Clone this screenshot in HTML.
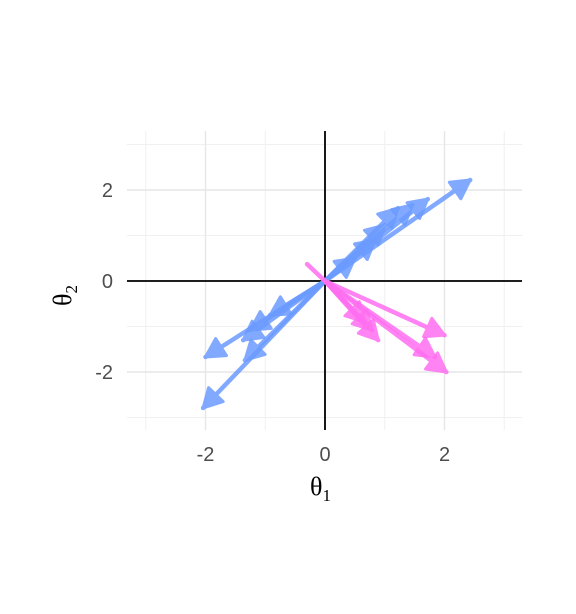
<!DOCTYPE html>
<html><head><meta charset="utf-8"><style>
html,body{margin:0;background:#fff;width:576px;height:614px;overflow:hidden}
svg{display:block;font-family:"Liberation Sans",sans-serif}
</style></head><body>
<svg id="c" width="576" height="614"></svg>
<script>
const blueX0=[0,0,0,0,0,0,0,0,0,0,0,0,0];
const blueY0=[0,0,0,0,0,0,0,0,0,0,0,0,0];
const blueX1=[2.43,1.72,1.46,1.22,1.0,0.84,0.5,-2.0,-2.04,-1.34,-1.37,-1.25,-0.92];
const blueY1=[2.22,1.80,1.67,1.6,1.23,0.9,0.5,-1.67,-2.79,-1.74,-1.3,-1.08,-0.75];
const pinkX0=[0,0,0,0,0,0,-0.3];
const pinkY0=[0,0,0,0,0,0,0.37];
const pinkX1=[2.0,2.03,1.84,0.89,0.79,0.67,0];
const pinkY1=[-1.19,-2.0,-1.67,-1.3,-1.08,-0.9,0];
const pinkHead=[1,1,1,1,1,1,0];
const majorTicks=[-2,0,2];
const minorTicks=[-3,-1,1,3];
const NS="http://www.w3.org/2000/svg";
const svg=document.getElementById('c');
const L=127,R=522,T=131,B=430;
const sx=v=>325+59.75*v, sy=v=>281-45.5*v;
function mk(t,a){const e=document.createElementNS(NS,t);for(const k in a)e.setAttribute(k,a[k]);svg.appendChild(e);return e;}
minorTicks.forEach(v=>{
 let e=mk('line',{x1:sx(v),x2:sx(v),y1:T,y2:B,stroke:'#f0f0f0','stroke-width':1});
 
 
 e=mk('line',{x1:L,x2:R,y1:sy(v),y2:sy(v),stroke:'#f0f0f0','stroke-width':1});
 
 
});
majorTicks.forEach(v=>{
 let e=mk('line',{x1:sx(v),x2:sx(v),y1:T,y2:B,stroke:'#e6e6e6','stroke-width':1.4});
 
 
 e=mk('line',{x1:L,x2:R,y1:sy(v),y2:sy(v),stroke:'#e6e6e6','stroke-width':1.4});
 
 
 let t=mk('text',{x:sx(v),y:461,'text-anchor':'middle','font-size':20,fill:'#4d4d4d'});
 t.textContent=String(v);
 
 
 t=mk('text',{x:113,y:sy(v)+7,'text-anchor':'end','font-size':20,fill:'#4d4d4d'});
 t.textContent=String(v);
 
 
});
let a=mk('line',{x1:L,x2:R,y1:sy(0),y2:sy(0),stroke:'#000','stroke-width':1.8});


a=mk('line',{x1:sx(0),x2:sx(0),y1:T,y2:B,stroke:'#000','stroke-width':1.8});


function arrow(x0,y0,x1,y1,col,head,name){
 const g=mk('g',{opacity:0.85});
 
 
 const X0=sx(x0),Y0=sy(y0),X1=sx(x1),Y1=sy(y1);
 const l=document.createElementNS(NS,'line');
 [['x1',X0],['y1',Y0],['x2',X1],['y2',Y1],['stroke',col],['stroke-width',4.5],['stroke-linecap','round']].forEach(p=>l.setAttribute(p[0],p[1]));
 g.appendChild(l);
 if(head){
  const ang=Math.atan2(Y1-Y0,X1-X0),len=21,w=0.5;
  const p1=[X1-len*Math.cos(ang-w),Y1-len*Math.sin(ang-w)];
  const p2=[X1-len*Math.cos(ang+w),Y1-len*Math.sin(ang+w)];
  const h=document.createElementNS(NS,'polygon');
  h.setAttribute('points',`${X1},${Y1} ${p1} ${p2}`);
  h.setAttribute('fill',col);h.setAttribute('stroke',col);h.setAttribute('stroke-width',3);h.setAttribute('stroke-linejoin','round');
  g.appendChild(h);
 }
}
blueX1.forEach((v,i)=>arrow(blueX0[i],blueY0[i],v,blueY1[i],'#6b9bff',1,'blue-arrow'));
pinkX1.forEach((v,i)=>arrow(pinkX0[i],pinkY0[i],v,pinkY1[i],'#ff6ef0',pinkHead[i],'pink-arrow'));
</script>
<div style="position:absolute;left:0;top:0;width:576px;height:614px;pointer-events:none;font-family:'Liberation Serif',serif;color:#000">
 <div style="position:absolute;left:310px;top:472px;font-size:26px">θ<sub style="font-size:17px">1</sub></div>
 <div style="position:absolute;left:42px;top:272px;font-size:26px;transform:rotate(-90deg);transform-origin:20px 14px">θ<sub style="font-size:17px">2</sub></div>
</div>
</body></html>
